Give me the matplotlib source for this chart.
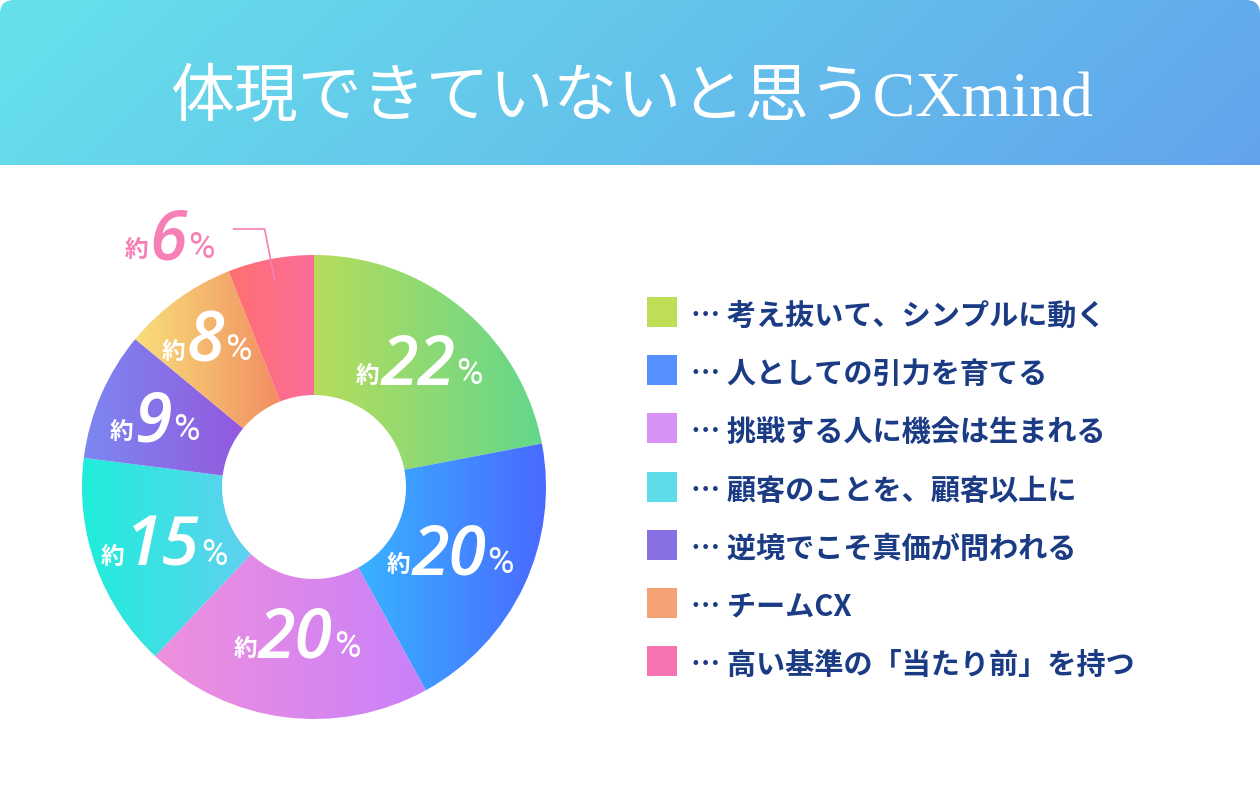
import matplotlib.pyplot as plt
import numpy as np
from matplotlib.colors import to_rgb
from matplotlib.patches import FancyBboxPatch, Rectangle

plt.rcParams['font.family'] = ['Noto Sans CJK JP', 'DejaVu Sans']

# データ
title = '体現できていないと思うCXmind'
items = ['考え抜いて、シンプルに動く', '人としての引力を育てる', '挑戦する人に機会は生まれる',
         '顧客のことを、顧客以上に', '逆境でこそ真価が問われる', 'チームCX',
         '高い基準の「当たり前」を持つ']
shares = [22, 20, 20, 15, 9, 8, 6]
legend_colors = ['#C0DD58', '#5490FF', '#D692F5', '#5EDCEA', '#8870E4', '#F5A274', '#F674AF']
grad_left = ['#B8DC5C', '#38B4FF', '#F090DC', '#1EEEDA', '#7C88F2', '#F8E07A', '#FF7070']
grad_right = ['#62D78C', '#4A68FF', '#C880FA', '#62D0F0', '#9458DE', '#F28C62', '#FB6C9C']

# レイアウト (px)
cx, cy = 314, 487
R_out, R_in = 232, 92
label_r = [163, 149, 148, 161, 175, 185, None]
navy = '#1B3C85'

fig = plt.figure(figsize=(12.6, 8), dpi=100)
ax = fig.add_axes([0, 0, 1, 1])

# タイトル帯
gx, gy = np.meshgrid(np.linspace(0, 1, 400), np.linspace(0, 1, 60))
t = np.clip(0.88 * gx + 0.12 * gy, 0, 1)
c0, c1 = np.array(to_rgb('#66E2EA')), np.array(to_rgb('#62A4EC'))
band = FancyBboxPatch((0, 0), 1260, 230, boxstyle='round,pad=0,rounding_size=14',
                      fc='none', ec='none')
ax.add_patch(band)
im = ax.imshow(c0 + (c1 - c0) * t[..., None], extent=(0, 1260, 165, 0),
               aspect='auto', zorder=1, interpolation='bilinear')
im.set_clip_path(band)
ax.text(632, 116, title, color='white', fontsize=46, ha='center', va='baseline',
        family=['Liberation Serif', 'Noto Sans CJK JP'], zorder=3)

# ドーナツ
wedges, _ = ax.pie(shares, center=(cx, cy), radius=R_out, startangle=-90,
                   counterclock=True, frame=True,
                   wedgeprops=dict(width=R_out - R_in, fc='none', ec='none'))
ramp = np.linspace(0, 1, 256)[:, None]
for w, cl, cr in zip(wedges, grad_left, grad_right):
    th = np.radians(np.linspace(w.theta1, w.theta2, 200))
    px = np.concatenate([cx + R_out * np.cos(th), cx + R_in * np.cos(th)])
    py = np.concatenate([cy + R_out * np.sin(th), cy + R_in * np.sin(th)])
    a, b = np.array(to_rgb(cl)), np.array(to_rgb(cr))
    g = (a + (b - a) * ramp)[None]
    gi = ax.imshow(g, extent=(px.min() - 2, px.max() + 2, py.max() + 2, py.min() - 2),
                   aspect='auto', zorder=2, interpolation='bilinear')
    gi.set_clip_path(w)

ax.set_xlim(0, 1260)
ax.set_ylim(800, 0)
ax.axis('off')
fig.canvas.draw()
renderer = fig.canvas.get_renderer()
inv = ax.transData.inverted()


def put_label(x, y, val, color):
    base = y + 24
    num = ax.text(x, base, str(val), fontsize=49, color=color, ha='center', va='baseline',
                  family='Open Sans', style='italic', weight='semibold', zorder=5)
    bb = num.get_window_extent(renderer).transformed(inv)
    ax.text(bb.x0 - 1, base - 2, '約', fontsize=17, color=color, ha='right', va='baseline',
            weight='bold', zorder=5)
    ax.text(bb.x1 + 1, base - 1, '%', fontsize=26, color=color, ha='left', va='baseline',
            family='Roboto', zorder=5)


for w, val, r in zip(wedges, shares, label_r):
    mid = np.radians((w.theta1 + w.theta2) / 2)
    if r is not None:
        put_label(cx + r * np.cos(mid), cy + r * np.sin(mid), val, 'white')
    else:
        sx, sy = cx + 210 * np.cos(mid), cy + 210 * np.sin(mid)
        ax.plot([sx, sx - 10, sx - 41], [sy, 229, 229], color='#F67FB6', lw=1.2, zorder=4)
        put_label(168, 235, val, '#F67FB6')

# 凡例
for i, (lab, col) in enumerate(zip(items, legend_colors)):
    y = 312 + i * 58.2
    ax.add_patch(Rectangle((647, y - 15), 30, 30, fc=col, ec='none', zorder=3))
    ax.text(691, y + 13, '… ' + lab, fontsize=21, color=navy, ha='left', va='baseline',
            weight='bold', zorder=3)

ax.set_xlim(0, 1260)
ax.set_ylim(800, 0)
fig.savefig('out.png', dpi=100, facecolor='white')
